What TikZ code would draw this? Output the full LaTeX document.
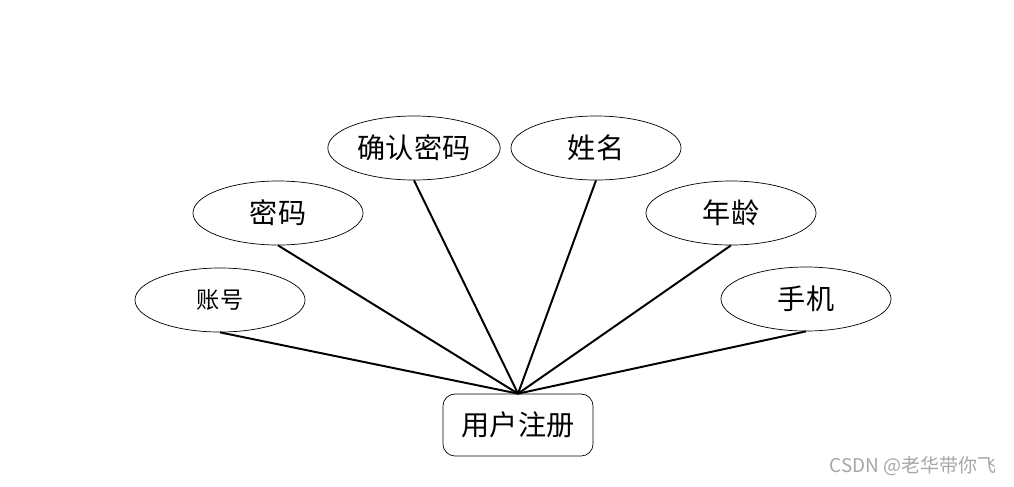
\documentclass[tikz,border=0pt]{standalone}
\usepackage{fontspec}
\usepackage{xcolor}
\usepackage{tikz}
\usetikzlibrary{shapes.geometric, arrows, arrows.meta, positioning}
\newfontfamily\cjk{Noto Sans CJK SC}
\tikzstyle{attr} = [ellipse,
minimum width=4.25cm,
minimum height=1.6cm,
text centered,
draw=black, line width=0.5pt,
font=\cjk\fontsize{20}{24}\selectfont]
\tikzstyle{entity} = [rectangle,
rounded corners=0.3cm,
minimum width=3.75cm,
minimum height=1.55cm,
text centered,
draw=black, line width=0.5pt,
font=\cjk\fontsize{20}{24}\selectfont]
\tikzstyle{link} = [line width=1.4pt]
\begin{document}
\begin{tikzpicture}[x=0.025cm, y=-0.025cm]
                \useasboundingbox (0,0) rectangle (1014,487);
                \node (reg) [entity] at (518,425) {用户注册};
                \node (acc) [attr, font=\cjk\fontsize{16.5}{20}\selectfont] at (220,300) {账号};
                \node (pwd) [attr] at (278,213) {密码};
                \node (cfm) [attr] at (414,148) {确认密码};
                \node (name) [attr] at (596,148) {姓名};
                \node (age) [attr] at (731,213) {年龄};
                \node (tel) [attr] at (806,299) {手机};

                \foreach \a in {acc, pwd, cfm, name, age, tel}
                    \draw [link] (\a.south) -- (reg.north);

                \node (mark) [text=gray!70, font=\cjk\fontsize{13.5}{16}\selectfont] at (913,466) {CSDN @老华带你飞};
            \end{tikzpicture}
\end{document}
